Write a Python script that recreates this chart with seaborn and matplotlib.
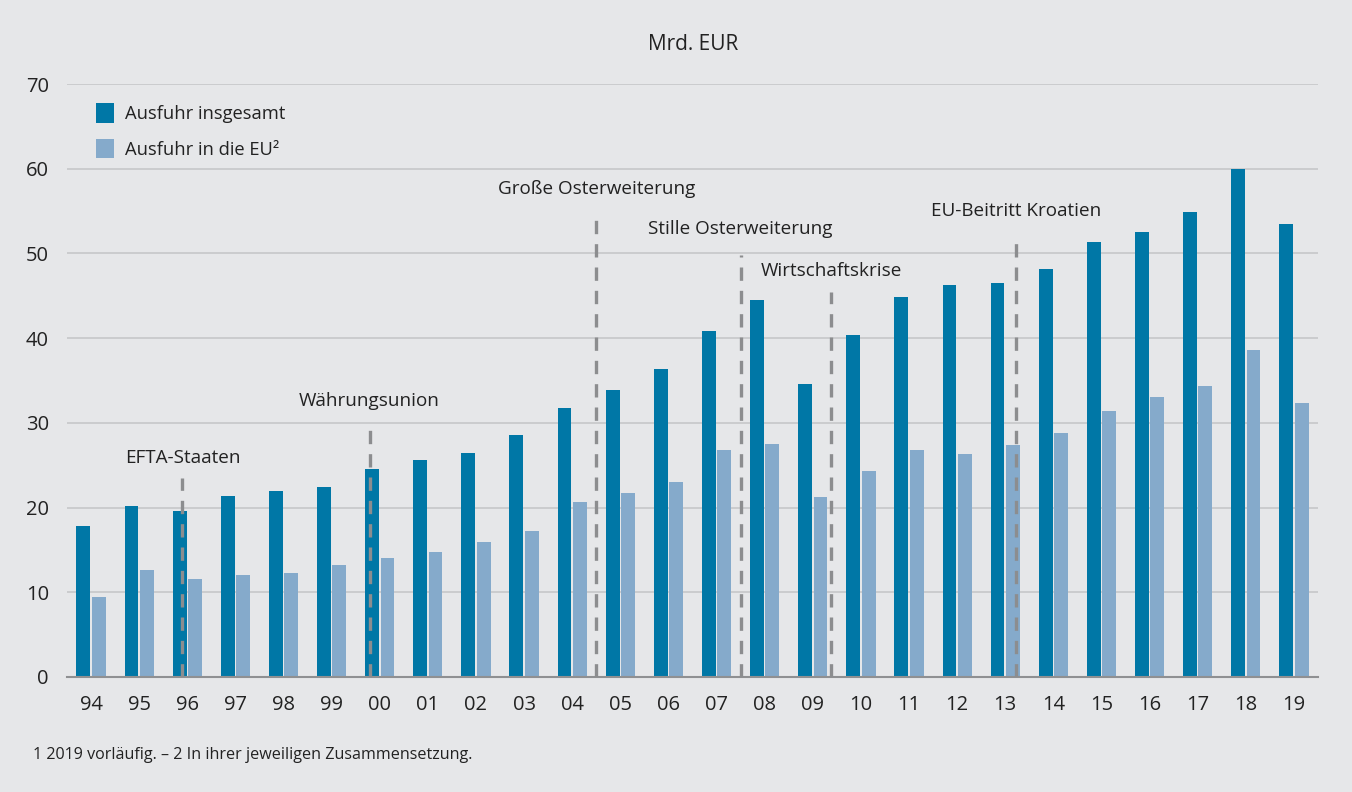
import pandas as pd
import matplotlib
matplotlib.use('Agg')
import matplotlib.pyplot as plt
import seaborn as sns

years = ['94', '95', '96', '97', '98', '99', '00', '01', '02', '03', '04', '05', '06',
         '07', '08', '09', '10', '11', '12', '13', '14', '15', '16', '17', '18', '19']
total = [17.8, 20.2, 19.6, 21.4, 21.9, 22.4, 24.5, 25.6, 26.5, 28.6, 31.7, 33.9, 36.3,
         40.9, 44.5, 34.6, 40.4, 44.8, 46.3, 46.5, 48.2, 51.4, 52.5, 54.9, 60.0, 53.5]
eu = [9.5, 12.6, 11.6, 12.0, 12.3, 13.2, 14.1, 14.8, 15.9, 17.2, 20.7, 21.7, 23.0,
      26.8, 27.5, 21.2, 24.3, 26.8, 26.3, 27.4, 28.8, 31.4, 33.0, 34.3, 38.6, 32.4]
series_names = ['Ausfuhr insgesamt', 'Ausfuhr in die EU²']

# events: label, x position (category index), line top, label y
event_labels = ['EFTA-Staaten', 'Währungsunion', 'Große Osterweiterung',
                'Stille Osterweiterung', 'Wirtschaftskrise', 'EU-Beitritt Kroatien']
event_x = [1.9, 5.79, 10.5, 13.5, 15.38, 19.22]
event_top = [23.5, 30.0, 54.2, 49.8, 45.4, 52.1]
event_text_y = [25.9, 32.6, 57.6, 52.9, 47.9, 55.0]

df = pd.DataFrame({
    'year': years * 2,
    'value': total + eu,
    'series': [series_names[0]] * len(years) + [series_names[1]] * len(years),
})

bg = '#e6e7e9'
dark = '#0077a6'
light = '#85aacb'
txt = '#222222'

sns.set_theme(style='white')
plt.rcParams['font.family'] = ['Open Sans', 'DejaVu Sans']

fig = plt.figure(figsize=(13.52, 7.92), dpi=100, facecolor=bg)
ax = fig.add_axes([67 / 1352, 1 - 677 / 792, (1318 - 67) / 1352, (677 - 84) / 792])
ax.set_facecolor(bg)

sns.barplot(data=df, x='year', y='value', hue='series', order=years,
            palette=[dark, light], saturation=1, width=0.64, gap=0.1,
            linewidth=0, ax=ax, zorder=2)

ax.set_xlim(-0.5, len(years) - 0.5)
ax.set_ylim(0, 70)
ax.set_yticks(range(0, 71, 10))
ax.yaxis.grid(True, color='#c9cacc', lw=1.3, zorder=0)
ax.set_axisbelow(True)
for s in ['top', 'right', 'left']:
    ax.spines[s].set_visible(False)
ax.spines['bottom'].set_color('#8f9092')
ax.spines['bottom'].set_linewidth(1.5)
ax.set_xlabel('')
ax.set_ylabel('')

ax.set_xticks(range(len(years)))
ax.set_xticklabels(years)
ax.set_xticks([i - 0.5 for i in range(len(years) + 1)], minor=True)
ax.tick_params(axis='x', which='major', length=0, pad=13, labelsize=14.5, labelcolor=txt)
ax.tick_params(axis='x', which='minor', length=7, width=1.3, color='#8f9092', direction='out')
ax.tick_params(axis='y', length=0, pad=13, labelsize=14.5, labelcolor=txt)

for lab, x, top, ty in zip(event_labels, event_x, event_top, event_text_y):
    ax.plot([x, x], [0, top], color='#8c8d8f', lw=2.4, ls=(0, (4, 3)), zorder=3)
    ax.text(x, ty, lab, ha='center', va='center', fontsize=13.6, color=txt, zorder=4)

handles, _ = ax.get_legend_handles_labels()
ax.legend(handles, series_names, loc='upper left', bbox_to_anchor=(0.01, 0.995),
          frameon=False, fontsize=13.2, handlelength=1.0, handleheight=1.25,
          handletextpad=0.6, labelspacing=0.85, labelcolor=txt)

fig.text(693 / 1352, 1 - 45 / 792, 'Mrd. EUR', ha='center', va='center', fontsize=15, color=txt)
fig.text(33 / 1352, 1 - 755 / 792, '1 2019 vorläufig. – 2 In ihrer jeweiligen Zusammensetzung.',
         ha='left', va='center', fontsize=11.6, color=txt)

fig.savefig('out.png', dpi=100, facecolor=bg)
